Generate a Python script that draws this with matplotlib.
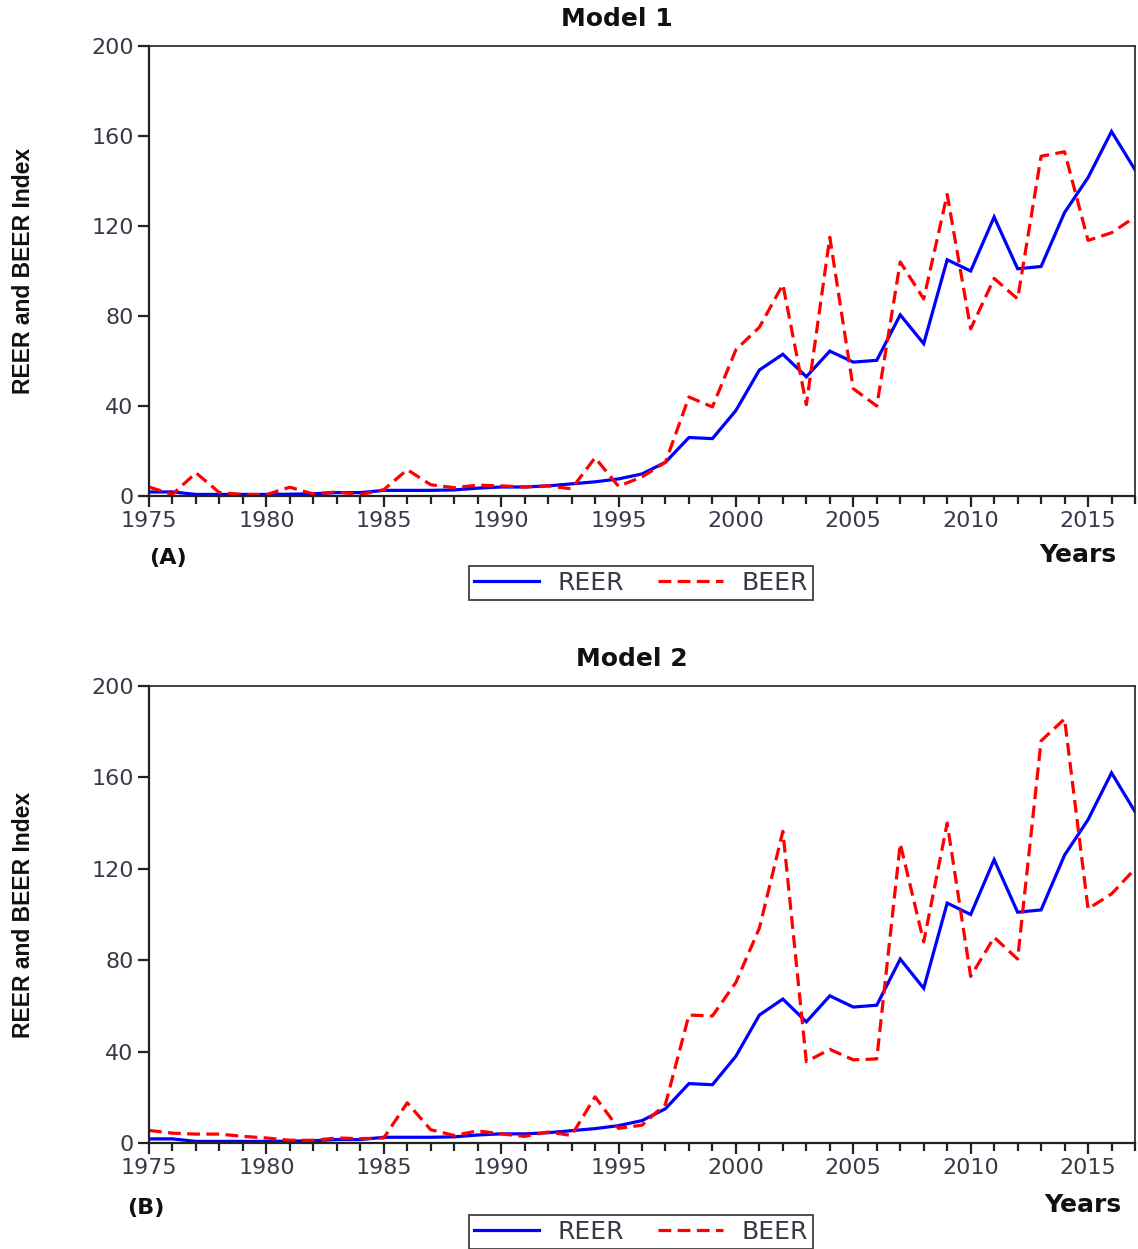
import matplotlib
matplotlib.use("Agg")
import matplotlib.pyplot as plt
from matplotlib.ticker import MultipleLocator, FixedLocator
from matplotlib.lines import Line2D

years = list(range(1975, 2018))

reer = [1.8, 1.8, 0.7, 0.7, 0.7, 0.7, 0.8, 1.0, 1.5, 1.5, 2.5, 2.5, 2.5, 2.7,
        3.5, 4.0, 4.0, 4.5, 5.4, 6.3, 7.6, 9.8, 15.0, 26.0, 25.5, 38.0, 56.0,
        63.0, 53.0, 64.4, 59.5, 60.3, 80.5, 67.7, 105.0, 100.0, 124.0, 101.0,
        102.0, 126.0, 141.5, 162.0, 145.0]

beer_model1 = [4.0, 0.7, 10.3, 1.5, 0.7, 0.6, 3.9, 0.9, 1.8, 0.6, 2.8, 11.7, 5.0,
               3.7, 4.8, 4.5, 4.0, 4.5, 3.2, 17.0, 4.3, 8.5, 15.0, 44.0, 39.6,
               65.0, 75.0, 94.0, 40.6, 115.0, 47.7, 40.0, 104.0, 87.6, 134.0,
               74.3, 96.7, 87.6, 151.0, 153.0, 113.6, 117.0, 124.0]

beer_model2 = [5.5, 4.3, 3.9, 3.9, 2.9, 2.2, 1.2, 1.2, 2.2, 1.9, 2.2, 17.6, 5.8,
               3.3, 5.3, 4.0, 2.9, 4.8, 3.3, 20.2, 6.4, 7.8, 17.0, 56.0, 55.6,
               70.3, 94.0, 136.4, 35.6, 41.0, 36.4, 36.8, 131.0, 88.0, 140.0,
               72.9, 90.0, 80.5, 176.0, 185.6, 102.5, 109.0, 120.0]

y_ticks = [0, 40, 80, 120, 160, 200]
x_ticks = [1975, 1980, 1985, 1990, 1995, 2000, 2005, 2010, 2015]

panels = [
    ("Model 1", "(A)", beer_model1),
    ("Model 2", "(B)", beer_model2),
]

W, H = 1138, 1249
fig = plt.figure(figsize=(W / 100, H / 100), dpi=100)

def fx(x):
    return x / W

def fy(y):
    return 1 - y / H

# axes boxes in pixels: left, top, right, bottom
boxes = [(149, 46, 1135, 496), (149, 686, 1135, 1143)]
title_pos = [(617, 19), (632, 659)]
tag_pos = [(168, 558), (146, 1208)]
years_pos = [(1078, 555), (1083, 1205)]
legend_pos = [(641, 583), (641, 1232)]

tick_color = "#3c3848"
blue = "#0000ff"
red = "#ff0000"

for i, (title, tag, beer) in enumerate(panels):
    l, t, r, b = boxes[i]
    ax = fig.add_axes([fx(l), fy(b), fx(r) - fx(l), fy(t) - fy(b)])
    ax.plot(years, reer, color=blue, lw=2.3, solid_joinstyle="miter")
    ax.plot(years, beer, color=red, lw=2.3, dashes=(4, 2))
    ax.set_xlim(1975, 2017)
    ax.set_ylim(0, 200)
    ax.yaxis.set_major_locator(FixedLocator(y_ticks))
    ax.xaxis.set_major_locator(FixedLocator(x_ticks))
    ax.xaxis.set_minor_locator(MultipleLocator(1))
    ax.tick_params(axis="both", which="major", direction="out", length=8,
                   width=1.6, colors="#222222", labelcolor=tick_color,
                   labelsize=16, pad=3)
    ax.tick_params(axis="x", which="minor", direction="out", length=6,
                   width=1.6, colors="#222222")
    for side, sp in ax.spines.items():
        sp.set_color("#222222")
        sp.set_linewidth(1.6 if side in ("left", "bottom") else 1.2)
    ax.set_ylabel("REER and BEER Index", fontsize=16.5, fontweight="bold",
                  family=["Liberation Sans", "DejaVu Sans"], color="#111111")
    ax.yaxis.set_label_coords((35 - l) / (r - l), 0.5)
    fig.text(fx(title_pos[i][0]), fy(title_pos[i][1]), title, ha="center",
             va="center", fontsize=18, fontweight="bold", color="#111111")
    fig.text(fx(tag_pos[i][0]), fy(tag_pos[i][1]), tag, ha="center",
             va="center", fontsize=16, fontweight="bold", color="#111111")
    fig.text(fx(years_pos[i][0]), fy(years_pos[i][1]), "Years", ha="center",
             va="center", fontsize=18, fontweight="bold", color="#111111")
    handles = [Line2D([], [], color=blue, lw=2.3),
               Line2D([], [], color=red, lw=2.3, dashes=(4, 2))]
    leg = fig.legend(handles, ["REER", "BEER"], loc="center",
                     bbox_to_anchor=(fx(legend_pos[i][0]), fy(legend_pos[i][1])),
                     ncol=2, fontsize=18, frameon=True, fancybox=False,
                     handlelength=2.6, handletextpad=0.75, columnspacing=1.35,
                     borderpad=0.2, borderaxespad=0)
    leg.get_frame().set_edgecolor("#111111")
    leg.get_frame().set_linewidth(1.3)
    for txt in leg.get_texts():
        txt.set_color(tick_color)

fig.savefig("out.png", dpi=100)
